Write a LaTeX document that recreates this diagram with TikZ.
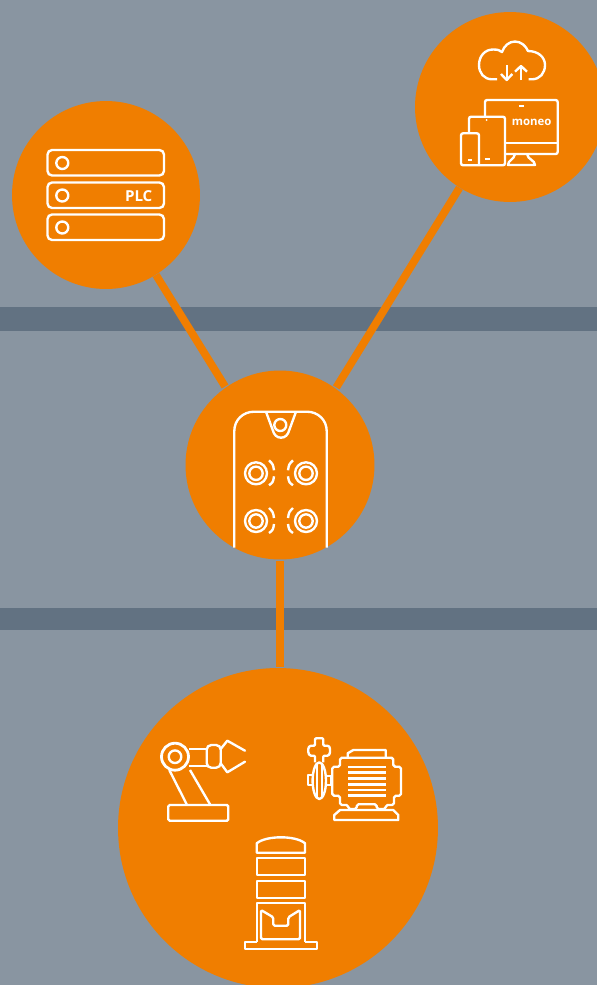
\documentclass[tikz,border=0pt]{standalone}
\usepackage{xcolor}
\usepackage{fontspec}
\setmainfont{Open Sans}
\usepackage{tikz}
\usetikzlibrary{backgrounds}
\definecolor{bgcolor}{HTML}{8995A1}
\definecolor{bandcolor}{HTML}{627282}
\definecolor{hubcolor}{HTML}{F07E00}

\begin{document}
\begin{tikzpicture}[x=0.02cm, y=-0.02cm,
    hub/.style={circle, fill=hubcolor, inner sep=0pt},
    link/.style={draw=hubcolor, line width=4.4pt, shorten >=0.2mm},
    icon/.style={draw=white, line width=1.35pt, line join=round},
    iconbar/.style={draw=white, line width=1.35pt, rounded corners=2.6pt},
    icontext/.style={text=white, inner sep=0pt, font=\bfseries}
]
    \useasboundingbox (0,0) rectangle (597,985);

    % Hubs
    \node[hub, minimum size=3.76cm] (plc) at (106,195) {};
    \node[hub, minimum size=3.8cm] (moneo) at (510,107) {};
    \node[hub, minimum size=3.78cm] (sensor) at (280,465) {};
    \node[hub, minimum size=6.4cm] (field) at (278,828) {};

    % Ground, bands and links
    \begin{scope}[on background layer]
        \fill[bgcolor] (0,0) rectangle (597,985);
        \fill[bandcolor] (0,307) rectangle (597,331);
        \fill[bandcolor] (0,608) rectangle (597,630);
        \draw[link] (plc.-58.7) -- (sensor.125.9);
        \draw[link] (moneo.-122.1) -- (sensor.54.6);
        \draw[link, line width=4.15pt, shorten <=0.2mm] (sensor.south) -- (sensor.south |- field.north);
    \end{scope}

    % PLC racks
    \foreach \ry in {150,182.5,214.5} {
        \draw[iconbar] (47.5,\ry) rectangle (164,{\ry+25.5});
        \draw[icon] (62.3,{\ry+13}) circle[radius=6];
    }
    \node[icontext, font=\bfseries\fontsize{8.6}{10}\selectfont] (plclabel) at (138.7,196) {PLC};

    % Cloud
    \draw[icon] (497,79.3) -- (492,79.3) .. controls (484,79.3) and (479,73) .. (479,65)
        .. controls (479,56) and (485,49.5) .. (493,49.5)
        .. controls (497,49.5) and (500,50) .. (502,52)
        .. controls (504,46) and (509,41.5) .. (515,41.5)
        .. controls (521,41.5) and (526,46) .. (528,51)
        .. controls (538,51) and (545,57) .. (545,65)
        .. controls (545,73) and (540,79.3) .. (532,79.3) -- (528.5,79.3);
    \draw[icon] (506.7,65) -- (506.7,80);
    \draw[icon] (501,74) -- (506.7,80) -- (512.3,74);
    \draw[icon] (521,80) -- (521,66);
    \draw[icon] (515,71.7) -- (521,66) -- (527,71.7);

    % Devices
    \draw[iconbar, rounded corners=1.2pt] (485,116.7) -- (485,100) -- (557.7,100) -- (557.7,154) -- (505,154);
    \draw[icon] (505,142.7) -- (557.7,142.7);
    \draw[icon] (519.2,106) -- (523.7,106);
    \draw[icon] (515,154) .. controls (514,160) and (508,160) .. (508,165) -- (535,165)
        .. controls (535,160) and (528,160) .. (527,154);
    \draw[iconbar, rounded corners=1.2pt] (469,133.3) -- (469,116.7) -- (505,116.7) -- (505,165.3) -- (461,165.3)
        -- (461,133.3) -- (479,133.3) -- (479,165.3);
    \fill[white] (486.7,120) circle[radius=1];
    \draw[icon] (484.5,158.7) -- (489.7,158.7);
    \draw[icon] (468.3,160) -- (472.3,160);
    \node[icontext, font=\bfseries\fontsize{6.5}{8}\selectfont] (moneolabel) at (531.7,122.3) {moneo};

    % Sensor housing
    \draw[icon] (234.3,547.7) -- (234.3,431) .. controls (234.3,420) and (243,411.7) .. (254,411.7)
        -- (307,411.7) .. controls (318,411.7) and (326.7,420) .. (326.7,431) -- (326.7,547.7);
    \draw[icon] (266,411.7) -- (272.7,430) .. controls (274,435) and (277,437.7) .. (281,437.7)
        .. controls (285,437.7) and (288,435) .. (289.3,430) -- (296,411.7);
    \draw[icon] (280.3,425) circle[radius=6];

    % Sensor coils
    \foreach \cx/\cy/\sd in {256/473.3/1, 306/473.3/-1, 256/521/1, 306/521/-1} {
        \draw[icon] (\cx,\cy) circle[radius=11];
        \draw[icon] (\cx,\cy) circle[radius=6.7];
        \draw[icon] ({\cx+\sd*13},{\cy-13}) .. controls ({\cx+\sd*17},{\cy-9}) .. ({\cx+\sd*18},{\cy-3});
        \draw[icon] ({\cx+\sd*18},{\cy+3}) .. controls ({\cx+\sd*17},{\cy+9}) .. ({\cx+\sd*13},{\cy+12});
    }

    % Robot arm
    \draw[icon, line width=1.6pt] (175,756.7) circle[radius=13.5];
    \draw[icon] (175,756.7) circle[radius=6.3];
    \draw[icon] (189,749) -- (206.7,749);
    \draw[icon] (189,765.7) -- (206.7,765.7);
    \draw[iconbar] (206.7,745) rectangle (220.7,767.7);
    \draw[icon, line cap=round] (220.7,749) -- (227.3,740.7) -- (245,750.7);
    \draw[icon, line cap=round] (220.7,763.3) -- (227.3,772.3) -- (245,761.7);
    \draw[icon] (169.3,770) -- (186.7,804.3);
    \draw[icon] (190,770) -- (210,804.3);
    \draw[iconbar, rounded corners=0.8pt] (168.3,805) rectangle (228.3,820.7);

    % Pump motor
    \draw[icon] (347.7,757.7) -- (347.7,753.3) -- (353.3,750) -- (385.7,750) -- (385.7,757.7);
    \draw[icon, rounded corners=1pt] (340,757.7) -- (393.3,757.7) -- (393.3,766.7) -- (401,766.7)
        -- (401,795.7) -- (394,795.7) -- (394,805) -- (385.7,805) -- (385.7,809) -- (376.7,809)
        -- (376.7,804.3) -- (356.7,804.3) -- (356.7,809) -- (348.3,809) -- (348.3,805)
        -- (340,805) -- (340,795.7) -- (332.3,795.7) -- (332.3,766.7) -- (340,766.7) -- cycle;
    \foreach \by in {767,772.7,778.3,784.3,790,795.7}
        \draw[icon, line width=1.6pt] (348.3,\by) -- (385.7,\by);
    \draw[icon] (334.3,820) -- (334.3,815) -- (340,810) -- (393.3,810)
        -- (398.3,815) -- (398.3,820) -- cycle;

    % Pump head
    \draw[icon] (319.3,780.7) ellipse[x radius=6.7, y radius=18.3];
    \draw[icon] (316.7,764) -- (316.7,797.5);
    \draw[icon] (321.7,764) -- (321.7,797.5);
    \draw[icon, rounded corners=0.6pt] (315,762.3) -- (315,755.7) -- (310,755.7) -- (308.3,753)
        -- (308.3,748) -- (310,745.7) -- (315,745.7) -- (315,738.3) -- (323.3,738.3) -- (323.3,745.7)
        -- (328.5,745.7) -- (330,748) -- (330,753) -- (328.5,755.7) -- (323.3,755.7) -- (323.3,762.3);
    \draw[icon] (312.3,775) -- (307.7,775) -- (307.7,785) -- (312.3,785);
    \draw[icon] (327.3,775.7) -- (331,775.7) -- (331,785) -- (327.3,785);

    % Press
    \draw[icon] (256.7,852.7) -- (256.7,843.3) .. controls (262,839) and (272,837.3) .. (281,837.3)
        .. controls (290,837.3) and (300,839) .. (305,843.3) -- (305,852.7) -- cycle;
    \draw[icon] (256.7,858.3) rectangle (305,875);
    \draw[icon] (256.7,880.7) rectangle (305,898.3);
    \draw[icon] (256.7,941.7) -- (256.7,902.7) -- (305,902.7) -- (305,941.7);
    \draw[icon, rounded corners=0.8pt] (261,910) -- (273.3,917.3) -- (273.3,925.7) -- (288.3,925.7)
        -- (288.3,917.3) -- (300,910) -- (300,939.3) -- (261,939.3) -- cycle;
    \draw[icon] (256.7,941.7) -- (245,941.7) -- (245,949) -- (316.7,949) -- (316.7,941.7) -- (305,941.7);
\end{tikzpicture}
\end{document}
